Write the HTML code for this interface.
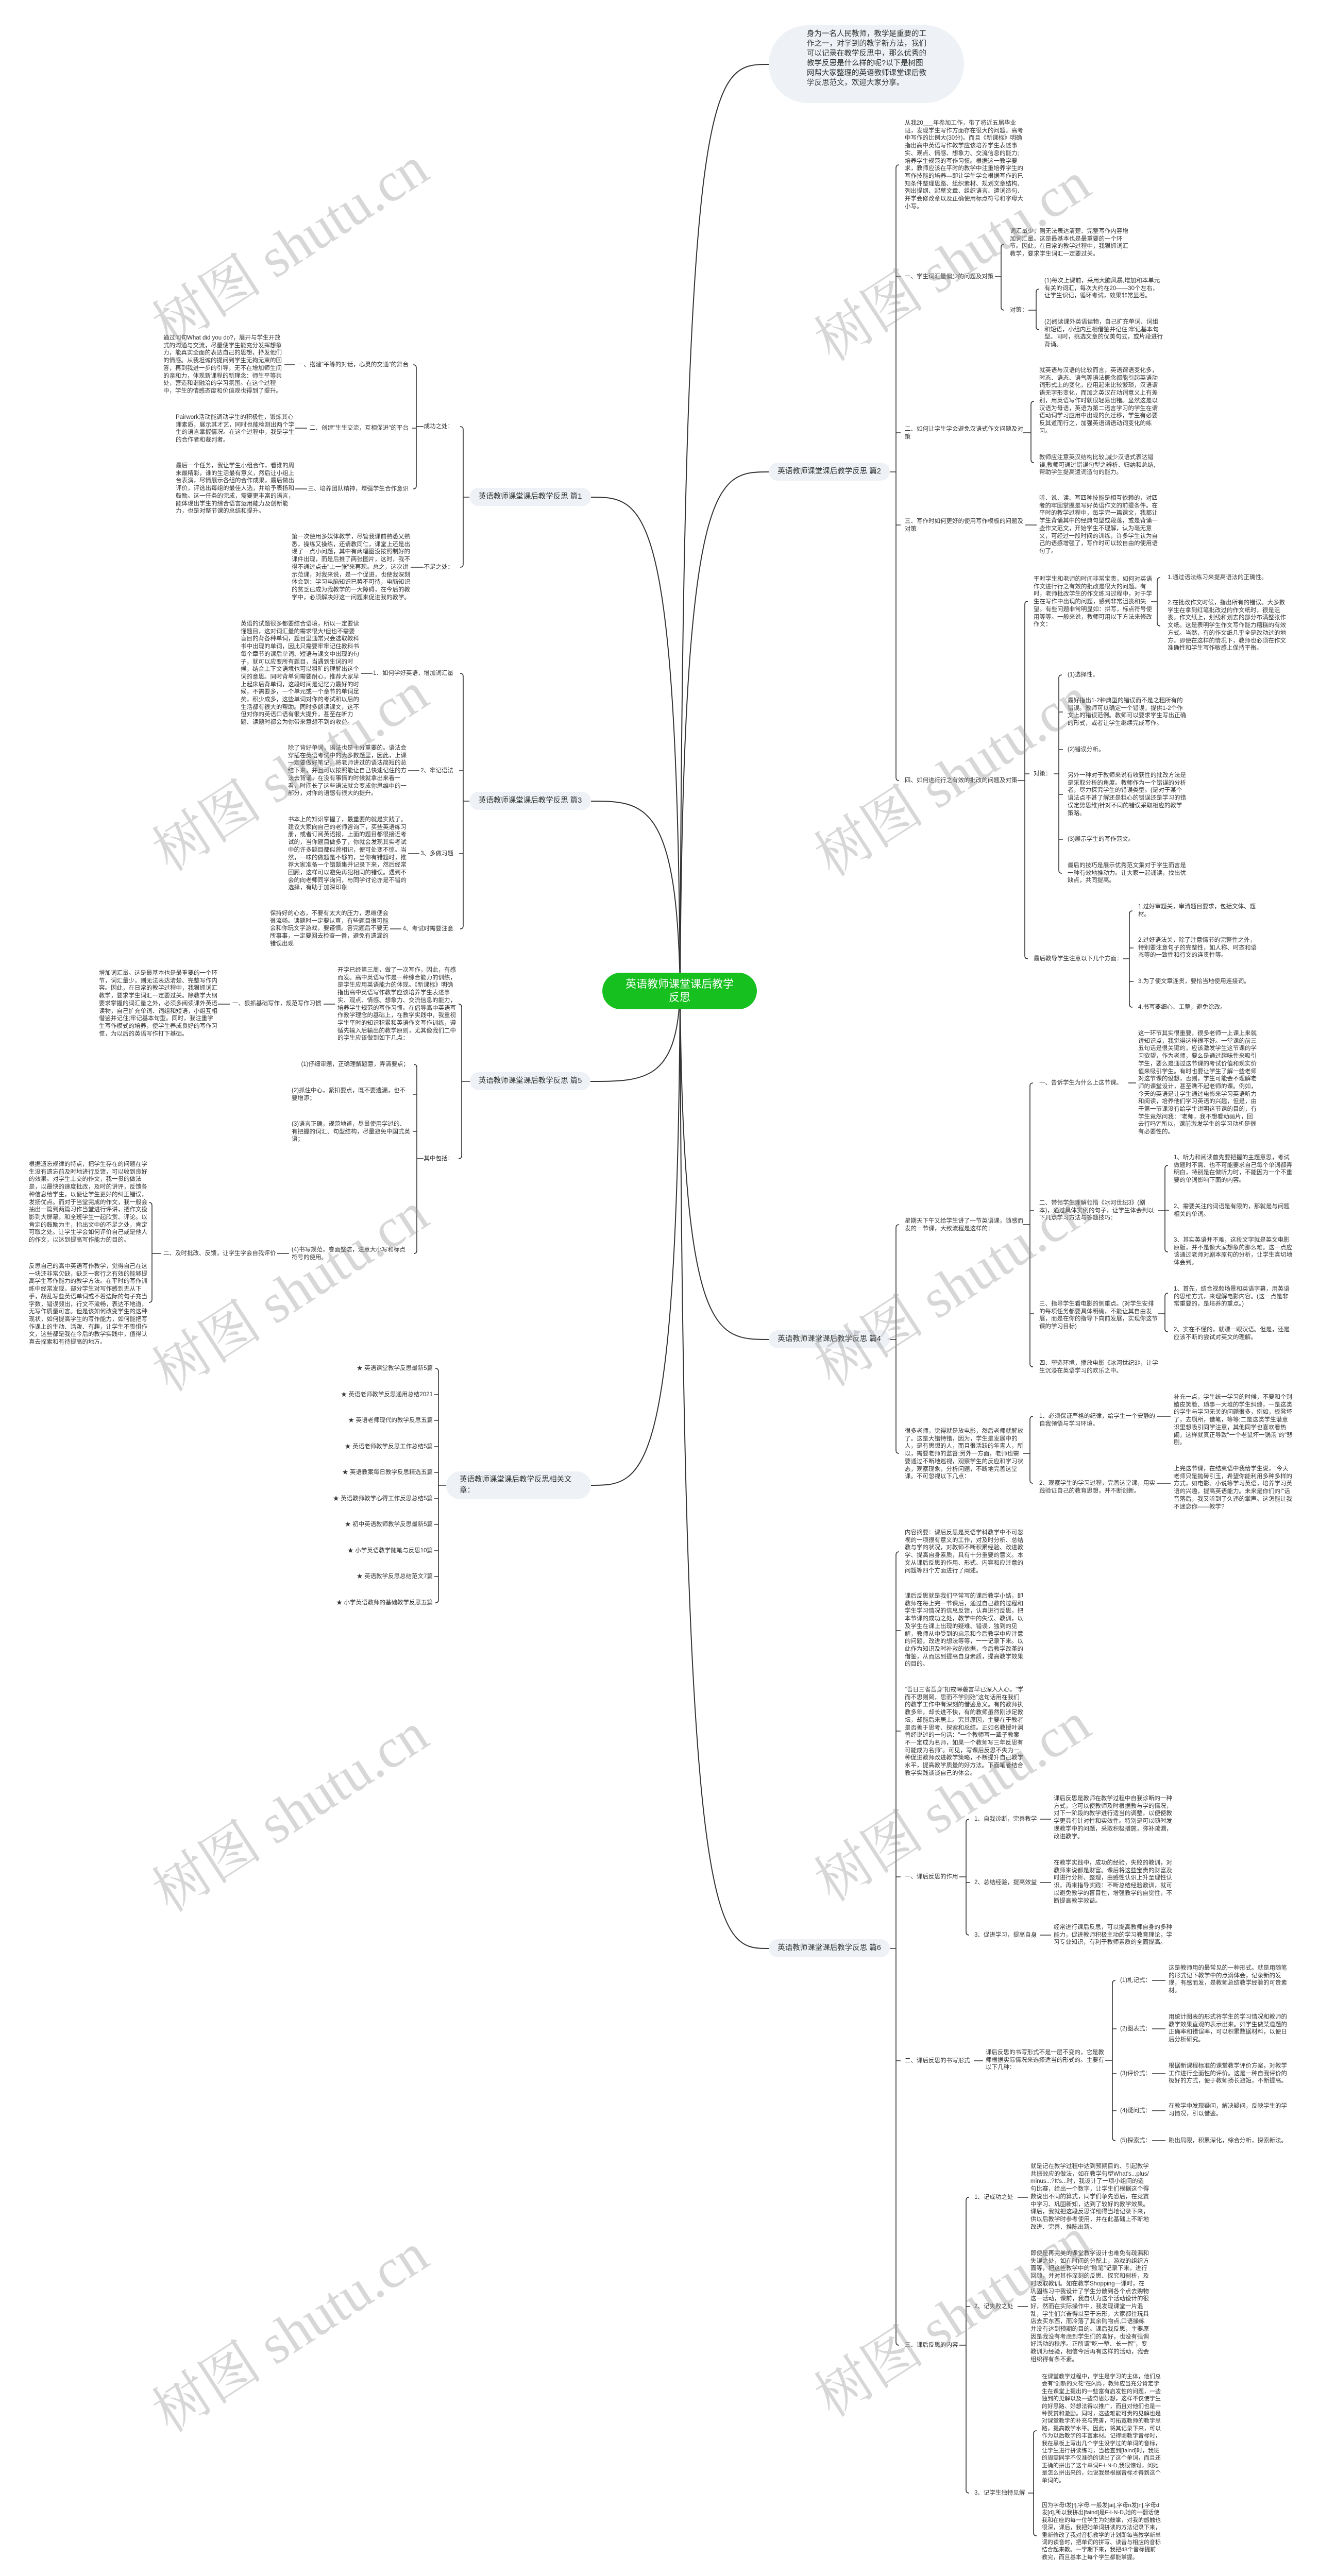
<!DOCTYPE html>
<html><head><meta charset="utf-8">
<style>
html,body{margin:0;padding:0;width:2560px;height:5065px;overflow:hidden;background:#fff;}
#wrap{position:relative;width:2560px;height:5065px;overflow:hidden;font-family:"Liberation Sans","Noto Sans CJK SC",sans-serif;color:#333;}
.t{position:absolute;font-size:11.5px;line-height:14.7px;width:231px;word-break:break-all;}
.l{position:absolute;font-size:11.5px;line-height:14.7px;white-space:nowrap;}
.r{position:absolute;font-size:11.5px;line-height:14.7px;white-space:nowrap;text-align:right;}
.n{position:absolute;background:#eef1f5;border-radius:18px;height:35px;line-height:35px;font-size:14.5px;text-align:center;color:#333;white-space:nowrap;}
.wm{position:absolute;font-family:"Liberation Serif","Noto Serif CJK SC",serif;font-size:108px;line-height:108px;height:108px;white-space:nowrap;color:rgba(150,150,150,0.38);transform:rotate(-33deg);transform-origin:0 100%;}
svg{position:absolute;left:0;top:0;}
</style></head><body><div id="wrap">
<svg width="2560" height="5065" viewBox="0 0 2560 5065" fill="none" stroke="#333" stroke-width="1.6">
<g stroke-width="2">
<path d="M1320 1923 C1325 125,1380 125,1492 125"/>
<path d="M1320 1923 C1325 916,1390 916,1492 916"/>
<path d="M1320 1923 C1325 2600,1390 2600,1492 2600"/>
<path d="M1320 1923 C1325 3782,1390 3782,1492 3782"/>
<path d="M1320 1923 C1315 965,1250 965,1147 965"/>
<path d="M1320 1923 C1315 1555,1250 1555,1147 1555"/>
<path d="M1320 1923 C1315 2099,1250 2099,1146 2099"/>
<path d="M1320 1923 C1315 2883,1250 2883,1147 2883"/>
</g>
<path d="M1727 916H1739 M1745 320Q1739 320 1739 326L1739 1509Q1739 1515 1745 1515 M1739 537h9 M1739 840h9 M1739 1019h9"/>
<path d="M1931 537H1943 M1949 474Q1943 474 1943 480L1943 596Q1943 602 1949 602"/>
<path d="M1996 602H2011 M2017 561Q2011 561 2011 567L2011 634Q2011 640 2017 640"/>
<path d="M1985 840H2001 M2007 779Q2001 779 2001 785L2001 892Q2001 898 2007 898"/>
<path d="M1990 1019H2012"/>
<path d="M1975 1515H1989 M1995 1167Q1989 1167 1989 1173L1989 1855Q1989 1861 1995 1861 M1989 1502h9"/>
<path d="M2234 1168H2246 M2252 1121Q2246 1121 2246 1127L2246 1209Q2246 1215 2252 1215"/>
<path d="M2045 1502H2055 M2061 1310Q2055 1310 2055 1316L2055 1689Q2055 1695 2061 1695 M2055 1382h8 M2055 1455h8 M2055 1542h8 M2055 1629h8"/>
<path d="M2180 1861H2192 M2198 1768Q2192 1768 2192 1774L2192 1949Q2192 1955 2198 1955 M2192 1840h8 M2192 1905h8"/>
<path d="M1727 2600H1739 M1745 2377Q1739 2377 1739 2383L1739 2815Q1739 2821 1745 2821"/>
<path d="M1985 2377H1999 M2005 2102Q1999 2102 1999 2108L1999 2647Q1999 2653 2005 2653 M1999 2350h8 M1999 2550h8"/>
<path d="M2190 2102H2205"/>
<path d="M2248 2350H2261 M2267 2262Q2261 2262 2261 2268L2261 2424Q2261 2430 2267 2430 M2261 2349h8"/>
<path d="M2248 2550H2261 M2267 2510Q2261 2510 2261 2516L2261 2579Q2261 2585 2267 2585"/>
<path d="M1985 2821H1999 M2005 2749Q1999 2749 1999 2755L1999 2873Q1999 2879 2005 2879"/>
<path d="M2245 2749H2272 M2245 2879H2272"/>
<path d="M1727 3782H1739 M1745 3012Q1739 3012 1739 3018L1739 4546Q1739 4552 1745 4552 M1739 3165h9 M1739 3360h9 M1739 3643h9 M1739 4000h9"/>
<path d="M1862 3643H1875 M1881 3531Q1875 3531 1875 3537L1875 3750Q1875 3756 1881 3756 M1875 3654h8"/>
<path d="M2018 3531H2040 M2018 3654H2040 M2018 3756H2040 M1890 4000H1908"/>
<path d="M2145 3999H2159 M2165 3844Q2159 3844 2159 3850L2159 4149Q2159 4155 2165 4155 M2159 3938h8 M2159 4025h8 M2159 4097h8"/>
<path d="M2236 3844H2262 M2236 3938H2262 M2236 4025H2262 M2236 4097H2262 M2236 4155H2262"/>
<path d="M1862 4552H1875 M1881 4265Q1875 4265 1875 4271L1875 4833Q1875 4839 1881 4839 M1875 4477h8"/>
<path d="M1975 4265H1995 M1975 4477H1995"/>
<path d="M1995 4839H2006 M2012 4718Q2006 4718 2006 4724L2006 4916Q2006 4922 2012 4922"/>
<path d="M911 965H899 M893 828Q899 828 899 834L899 1095Q899 1101 893 1101"/>
<path d="M822 828H808 M802 708Q808 708 808 714L808 943Q808 949 802 949 M808 831h-8"/>
<path d="M552 708H572 M573 831H596 M573 949H596 M797 1101H822"/>
<path d="M911 1555H899 M893 1307Q899 1307 899 1313L899 1797Q899 1803 893 1803 M899 1496h-8 M899 1657h-8"/>
<path d="M701 1307H723 M792 1496H814 M792 1657H814 M757 1803H779"/>
<path d="M912 2099H896 M890 1949Q896 1949 896 1955L896 2243Q896 2249 890 2249"/>
<path d="M628 1949H650 M423 1949H446"/>
<path d="M822 2249H809 M803 2066Q809 2066 809 2072L809 2427Q809 2433 803 2433 M809 2124h-8 M809 2196h-8"/>
<path d="M538 2433H561"/>
<path d="M312 2433H295 M289 2334Q295 2334 295 2340L295 2522Q295 2528 289 2528"/>
<path d="M866 2883H851 M845 2656Q851 2656 851 2662L851 3105Q851 3111 845 3111 M851 2707h-8 M851 2757h-8 M851 2808h-8 M851 2858h-8 M851 2909h-8 M851 2959h-8 M851 3010h-8 M851 3060h-8"/>
</svg>

<div style="position:absolute;left:1169px;top:1888px;width:300px;height:71px;border-radius:36px;background:#16c01f;color:#fff;font-size:21px;line-height:26px;text-align:center;display:flex;align-items:center;justify-content:center;"><div style="width:220px;">英语教师课堂课后教学反思</div></div>

<div style="position:absolute;left:1492px;top:49px;width:379px;height:151px;border-radius:76px;background:#eef1f5;"></div>
<div style="position:absolute;left:1566px;top:57px;width:232px;font-size:14.5px;line-height:19px;">身为一名人民教师，教学是重要的工作之一，对学到的教学新方法，我们可以记录在教学反思中，那么优秀的教学反思是什么样的呢?以下是树图网帮大家整理的英语教师课堂课后教学反思范文，欢迎大家分享。</div>

<div class="n" style="left:1492px;top:898px;width:235px;">英语教师课堂课后教学反思 篇2</div>
<div class="n" style="left:1492px;top:2582px;width:235px;">英语教师课堂课后教学反思 篇4</div>
<div class="n" style="left:1492px;top:3764px;width:235px;">英语教师课堂课后教学反思 篇6</div>
<div class="n" style="left:911px;top:947px;width:236px;">英语教师课堂课后教学反思 篇1</div>
<div class="n" style="left:911px;top:1537px;width:236px;">英语教师课堂课后教学反思 篇3</div>
<div class="n" style="left:912px;top:2081px;width:234px;">英语教师课堂课后教学反思 篇5</div>
<div class="n" style="left:866px;top:2856px;width:281px;height:54px;line-height:21px;border-radius:27px;text-align:left;white-space:normal;"><div style="padding:6px 0 0 26px;width:225px;">英语教师课堂课后教学反思相关文章：</div></div>

<div class="t" style="left:1756px;top:232px;">从我20___年参加工作，带了将近五届毕业班，发现学生写作方面存在很大的问题。高考中写作的比例大(30分)。而且《新课标》明确指出高中英语写作教学应该培养学生表述事实、观点、情感、想象力、交流信息的能力;培养学生规范的写作习惯。根据这一教学要求，教师应该在平时的教学中注重培养学生的写作技能的培养—即让学生学会根据写作的已知条件整理思路、组织素材、规划文章结构、列出提纲、起草文章、组织语言、遣词造句、并学会修改章以及正确使用标点符号和字母大小写。</div>
<div class="l" style="left:1756px;top:530px;">一、学生词汇量偏少的问题及对策</div>
<div class="t" style="left:1960px;top:442px;">词汇量少，则无法表达清楚、完整写作内容增加词汇量。这是最基本也是最重要的一个环节。因此，在日常的教学过程中，我狠抓词汇教学，要求学生词汇一定要过关。</div>
<div class="l" style="left:1960px;top:595px;">对策：</div>
<div class="t" style="left:2027px;top:538px;">(1)每次上课前，采用大脑风暴,增加和本单元有关的词汇，每次大约在20——30个左右，让学生识记，循环考试，效果非常显着。</div>
<div class="t" style="left:2027px;top:618px;">(2)阅读课外英语读物，自己扩充单词、词组和短语，小组内互相借鉴并记住;牢记基本句型。同时，挑选文章的优美句式，或片段进行背诵。</div>
<div class="t" style="left:1756px;top:826px;">二、如何让学生学会避免汉语式作文问题及对策</div>
<div class="t" style="left:2017px;top:712px;">就英语与汉语的比较而言，英语谓语变化多，时态、语态、语气等语法概念都能引起英语动词形式上的变化，应用起来比较繁琐，汉语谓语无字形变化，而加之英汉在动词意义上有差别，用英语写作时就很轻易出错。显然这是以汉语为母语，英语为第二语言学习的学生在谓语动词学习应用中出现的负迁移，学生有必要反其道而行之，加强英语谓语动词变化的练习。</div>
<div class="t" style="left:2017px;top:881px;">教师应注意英汉结构比较,减少汉语式表达错误,教师可通过错误句型之辨析、归纳和总结,帮助学生提高遣词造句的能力。</div>
<div class="t" style="left:1756px;top:1005px;">三、写作时如何更好的使用写作模板的问题及对策</div>
<div class="t" style="left:2017px;top:960px;">听、说、读、写四种技能是相互依赖的，对四者的牢固掌握是写好英语作文的前提条件。在平时的教学过程中，每学完一篇课文，我都让学生背诵其中的经典句型或段落，或是背诵一些作文范文，开始学生不理解，认为毫无意义，可经过一段时间的训练，许多学生认为自己的语感增强了，写作时可以较自由的使用语句了。</div>
<div class="l" style="left:1756px;top:1508px;">四、如何进行行之有效的批改的问题及对策</div>
<div class="t" style="left:2006px;top:1117px;">平时学生和老师的时间非常宝贵，如何对英语作文进行行之有效的批改是很大的问题。有时，老师批改学生的作文练习过程中，对于学生在写作中出现的问题，感到非常沮丧和失望。有些问题非常明显如：拼写，标点符号使用等等。一般来说，教师可用以下方法来修改作文：</div>
<div class="l" style="left:2266px;top:1114px;">1.通过语法练习来提高语法的正确性。</div>
<div class="t" style="left:2266px;top:1163px;">2.在批改作文时候，指出所有的错误。大多数学生在拿到红笔批改过的作文纸时，很是沮丧。作文纸上，划线和划去的部分布满整张作文纸。这是表明学生作文写作能力糟糕的有效方式。当然，有的作文纸几乎全是改动过的地方。即使在这样的情况下，教师也必须在作文准确性和学生写作敏感上保持平衡。</div>
<div class="l" style="left:2006px;top:1495px;">对策：</div>
<div class="l" style="left:2072px;top:1303px;">(1)选择性。</div>
<div class="t" style="left:2072px;top:1353px;">最好指出1-2种典型的错误而不是之粗所有的错误。教师可以确定一个错误，提供1-2个作文上的错误范例。教师可以要求学生写出正确的形式，或者让学生继续完成写作。</div>
<div class="l" style="left:2072px;top:1448px;">(2)错误分析。</div>
<div class="t" style="left:2072px;top:1498px;">另外一种对于教师来说有收获性的批改方法是是采取分析的角度。教师作为一个错误的分析者，尽力探究学生的错误类型。(是对于某个语法点不甚了解还是粗心的错误还是学习的错误定势思维)针对不同的错误采取相应的教学策略。</div>
<div class="l" style="left:2072px;top:1622px;">(3)展示学生的写作范文。</div>
<div class="t" style="left:2072px;top:1673px;">最后的技巧是展示优秀范文集对于学生而言是一种有效地推动力。让大家一起诵读，找出优缺点，共同提高。</div>
<div class="l" style="left:2006px;top:1854px;">最后教导学生注意以下几个方面：</div>
<div class="t" style="left:2209px;top:1753px;">1.过好审题关，审清题目要求，包括文体、题材。</div>
<div class="t" style="left:2209px;top:1818px;">2.过好语法关，除了注意情节的完整性之外，特别要注意句子的完整性，如人称、时态和语态等的一致性和行文的连贯性等。</div>
<div class="l" style="left:2209px;top:1898px;">3.为了使文章连贯，要恰当地使用连接词。</div>
<div class="l" style="left:2209px;top:1948px;">4.书写要细心、工整，避免涂改。</div>

<div class="t" style="left:1756px;top:2363px;">星期天下午又给学生讲了一节英语课，随感而发的一节课，大致流程是这样的：</div>
<div class="l" style="left:2017px;top:2095px;">一、告诉学生为什么上这节课。</div>
<div class="t" style="left:2209px;top:1999px;">这一环节其实很重要，很多老师一上课上来就讲知识点，我觉得这样很不好。一堂课的前三五句话是很关键的，应该激发学生这节课的学习欲望，作为老师，要么是通过趣味性来吸引学生，要么是通过这节课的考试价值和现实价值来吸引学生。有时也要让学生了解一些老师对这节课的设想，否则，学生可能会不理解老师的课堂设计，甚至瞧不起老师的课。例如，今天的英语是让学生通过电影来学习英语听力和阅读，培养他们学习英语的兴趣，但是，由于第一节课没有给学生讲明这节课的目的，有学生竟然问我："老师，我不想看动画片，回去行吗?"所以，课前激发学生的学习动机是很有必要性的。</div>
<div class="t" style="left:2017px;top:2328px;">二、带领学生理解领悟《冰河世纪3》(剧本)，通过具体实例的句子，让学生体会到以下几点学习方法与答题技巧：</div>
<div class="t" style="left:2278px;top:2240px;">1、听力和阅读首先要把握的主题意思，考试做题时不需、也不可能要求自己每个单词都弄明白，特别是在做听力时，不能因为一个不重要的单词影响下面的内容。</div>
<div class="t" style="left:2278px;top:2335px;">2、需要关注的词语是有限的，那就是与问题相关的单词。</div>
<div class="t" style="left:2278px;top:2400px;">3、其实英语并不难，这段文字就是英文电影原版，并不是像大家想象的那么难。这一点应该通过老师对剧本原句的分析，让学生真切地体会到。</div>
<div class="t" style="left:2017px;top:2524px;">三、指导学生看电影的侧重点。(对学生安排的每项任务都要具体明确，不能让其自由发展，而是在你的指导下向前发展，实现你这节课的学习目标)</div>
<div class="t" style="left:2278px;top:2495px;">1、首先，结合视频场景和英语字幕，用英语的思维方式，来理解电影内容。(这一点是非常重要的，是培养的重点。)</div>
<div class="t" style="left:2278px;top:2574px;">2、实在不懂的，就瞟一眼汉语。但是，还是应该不断的尝试对英文的理解。</div>
<div class="t" style="left:2017px;top:2639px;">四、塑造环境，播放电影《冰河世纪3》，让学生沉浸在英语学习的欢乐之中。</div>
<div class="t" style="left:1756px;top:2771px;">很多老师，觉得就是放电影，然后老师就解放了。这是大错特错，因为，学生是发展中的人，是有思想的人，而且很活跃的年青人，所以，需要老师的监督;另外一方面，老师也需要通过不断地巡视，观察学生的反应和学习状态，观察现象，分析问题，不断地完善这堂课。不可忽视以下几点：</div>
<div class="t" style="left:2017px;top:2742px;">1、必须保证严格的纪律，给学生一个安静的自我领悟与学习环境。</div>
<div class="t" style="left:2278px;top:2705px;">补充一点，学生统一学习的时候，不要和个别嬉皮笑脸、琐事一大堆的学生纠缠，一是这类的学生与学习无关的问题很多，例如，板凳坏了，去厕所，借笔，等等;二是这类学生潜意识里想吸引同学注意，其他同学也喜欢看热闹，这样就真正导致"一个老鼠坏一锅汤"的"悲剧。</div>
<div class="t" style="left:2017px;top:2872px;">2、观察学生的学习过程，完善这堂课，用实践验证自己的教育思想，并不断创新。</div>
<div class="t" style="left:2278px;top:2844px;">上完这节课，在结束语中我给学生说，"今天老师只是抛砖引玉，希望你能利用多种多样的方式，如电影、小说等学习英语，培养学习英语的兴趣，提高英语能力。未来是你们的!"话音落后，我又听到了久违的掌声。这怎能让我不迷恋你——教学?</div>

<div class="t" style="left:1756px;top:2968px;">内容摘要：课后反思是英语学科教学中不可忽视的一项很有意义的工作，对及时分析、总结教与学的状况，对教师不断积累经验、改进教学、提高自身素质，具有十分重要的意义。本文从课后反思的作用、形式、内容和应注意的问题等四个方面进行了阐述。</div>
<div class="t" style="left:1756px;top:3091px;">课后反思就是我们平常写的课后教学小结，即教师在每上完一节课后，通过自己教的过程和学生学习情况的信息反馈，认真进行反思，把本节课的成功之处，教学中的失误、教训，以及学生在课上出现的疑难、错误，独到的见解，教师从中受到的启示和今后教学中应注意的问题，改进的想法等等，一一记录下来。以此作为知识及时补救的依据，今后教学改革的借鉴，从而达到提高自身素质，提高教学效果的目的。</div>
<div class="t" style="left:1756px;top:3273px;">"吾日三省吾身"扣戒嗥砻言早已深入人心。"学而不思则罔，思而不学则殆"这句话用在我们的教学工作中有深刻的借鉴意义。有的教师执教多年，却长进不快，有的教师虽然刚涉足教坛，却能后来居上。究其原因，主要在于教者是否善于思考、探索和总结。正如名教授叶澜曾经说过的一句话："一个教师写一辈子教案不一定成为名师，如果一个教师写三年反思有可能成为名师"。可见，写课后反思不失为一种促进教师改进教学策略，不断提升自己教学水平，提高教学质量的好方法。下面笔者结合教学实践谈谈自己的体会。</div>
<div class="l" style="left:1756px;top:3636px;">一、课后反思的作用</div>
<div class="l" style="left:1891px;top:3524px;">1、自我诊断，完善教学</div>
<div class="t" style="left:2045px;top:3484px;">课后反思是教师在教学过程中自我诊断的一种方式，它可以使教师及时根据教与学的情况，对下一阶段的教学进行适当的调整，以便使教学更具有针对性和实效性。特别是可以随时发现教学中的问题，采取积极措施，弥补疏漏，改进教学。</div>
<div class="l" style="left:1891px;top:3647px;">2、总结经验，提高效益</div>
<div class="t" style="left:2045px;top:3609px;">在教学实践中，成功的经验，失败的教训，对教师来说都是财富。课后将这些宝贵的财富及时进行分析、整理，由感性认识上升至理性认识，再来指导实践：不断总结经验教训，就可以避免教学的盲目性，增强教学的自觉性，不断提高教学效益。</div>
<div class="l" style="left:1891px;top:3749px;">3、促进学习，提高自身</div>
<div class="t" style="left:2045px;top:3734px;">经常进行课后反思，可以提高教师自身的多种能力，促进教师积极主动的学习教育理论，学习专业知识，有利于教师素质的全面提高。</div>
<div class="l" style="left:1756px;top:3993px;">二、课后反思的书写形式</div>
<div class="t" style="left:1913px;top:3977px;">课后反思的书写形式不是一层不变的，它是教师根据实际情况来选择适当的形式的。主要有以下几种：</div>
<div class="l" style="left:2174px;top:3837px;">(1)札记式：</div>
<div class="l" style="left:2174px;top:3931px;">(2)图表式：</div>
<div class="l" style="left:2174px;top:4018px;">(3)评价式：</div>
<div class="l" style="left:2174px;top:4090px;">(4)疑问式：</div>
<div class="l" style="left:2174px;top:4148px;">(5)探索式：</div>
<div class="t" style="left:2268px;top:3813px;">这是教师用的最常见的一种形式。就是用随笔的形式记下教学中的点滴体会，记录新的发现，有感而发，是教师总结教学经验的可贵素材。</div>
<div class="t" style="left:2268px;top:3908px;">用统计图表的形式将学生的学习情况和教师的教学效果直观的表示出来。如学生做某道题的正确率和错误率，可以积累数据材料，以便日后分析研究。</div>
<div class="t" style="left:2268px;top:4003px;">根据新课程标准的课堂教学评价方案，对教学工作进行全面性的评价。这是一种自我评价的极好的方式，便于教师扬长避短，不断提高。</div>
<div class="t" style="left:2268px;top:4081px;">在教学中发现疑问，解决疑问，反映学生的学习情况，引以借鉴。</div>
<div class="l" style="left:2268px;top:4148px;">跳出局限，积累深化，综合分析，探索新法。</div>
<div class="l" style="left:1756px;top:4545px;">三、课后反思的内容</div>
<div class="l" style="left:1891px;top:4258px;">1、记成功之处</div>
<div class="t" style="left:2000px;top:4198px;">就是记在教学过程中达到预期目的、引起教学共振效应的做法，如在教学句型What's...plus/minus...?It's...时，我设计了一项小组间的造句比赛，给出一个数字，让学生们根据这个得数说出不同的算式，同学们争先恐后，在竞赛中学习、巩固新知，达到了较好的教学效果。课后，我就把这段反思详细得当地记录下来，供以后教学时参考使用，并在此基础上不断地改进、完善、推陈出新。</div>
<div class="l" style="left:1891px;top:4470px;">2、记失败之处</div>
<div class="t" style="left:2000px;top:4367px;">即使是再完美的课堂教学设计也难免有疏漏和失误之处，如在时间的分配上，游戏的组织方面等，把这些教学中的"败笔"记录下来，进行回顾，并对其作深刻的反思、探究和剖析，及时吸取教训。如在教学Shopping一课时，在巩固练习中我设计了学生分散到各个点去购物这一活动，课前，我自认为这个活动设计的很好，然而在实际操作中，我发现课堂一片混乱，学生们兴奋得以至于忘形，大家都往玩具店去买东西，而冷落了其余购物点,口语操练并没有达到预期的目的。课后我反思，主要原因是我没有考虑到学生们的喜好，也没有强调好活动的秩序。正所谓"吃一堑、长一智"，变教训为经验，相信今后再有这样的活动，我会组织得有条不紊。</div>
<div class="l" style="left:1891px;top:4832px;">3、记学生独特见解</div>
<div class="t" style="left:2022px;top:4606px;font-size:11px;line-height:14.4px;">在课堂教学过程中，学生是学习的主体，他们总会有"创新的火花"在闪烁，教师应当充分肯定学生在课堂上提出的一些富有启发性的问题，一些独到的见解以及一些奇思妙想，这样不仅使学生的好思路、好想法得以推广，而且对他们也是一种赞赏和激励。同时，这些难能可贵的见解也是对课堂教学的补充与完善，可拓宽教师的教学思路，提高教学水平。因此，将其记录下来，可以作为以后教学的丰富素材。记得刚教学音标时，我在黑板上写出几个学生没学过的单词的音标，让学生进行拼读练习，当检查到[faind]时，我班的周雯同学不仅准确的读出了这个单词，而且还正确的拼出了这个单词F-I-N-D,我很惊讶，问她是怎么拼出来的，她说我是根据音标才得到这个单词的。</div>
<div class="t" style="left:2022px;top:4856px;font-size:11px;line-height:14.4px;">因为字母f发[f],字母i一般发[ai],字母n发[n],字母d发[d],所以我拼出[faind]是F-I-N-D,她的一翻话使我和在座的每一位学生为她鼓掌，对我的感触也很深，课后，我把她单词拼读的方法记录下来，重新修改了我对音标教学的计划即每当教学新单词的读音时，把单词的拼写、读音与相应的音标结合起来教。一学期下来，我把48个音标提前教完，而且基本上每个学生都能掌握。</div>

<div class="r" style="right:1680px;top:821px;">成功之处：</div>
<div class="r" style="right:1767px;top:701px;">一、搭建"平等的对话，心灵的交通"的舞台</div>
<div class="t" style="left:317px;top:649px;">通过问句What did you do?，展开与学生开放式的沟通与交流，尽量使学生能充分发挥想象力，能真实全面的表达自己的思想，抒发他们的情感。从我坦诚的提问到学生无拘无束的回答，再到我进一步的引导，无不在增加师生间的亲和力，体现新课程的新理念：师生平等共处，营造和谐融洽的学习氛围。在这个过程中，学生的情感态度和价值观也得到了提升。</div>
<div class="r" style="right:1767px;top:824px;">二、创建"生生交流，互相促进"的平台</div>
<div class="t" style="left:341px;top:803px;">Pairwork活动能调动学生的积极性，锻炼其心理素质，展示其才艺，同时也能检测出两个学生的语言掌握情况。在这个过程中，我是学生的合作者和裁判者。</div>
<div class="r" style="right:1767px;top:942px;">三、培养团队精神，增强学生合作意识</div>
<div class="t" style="left:341px;top:897px;">最后一个任务，我让学生小组合作，看谁的周末最精彩，谁的生活最有意义，然后让小组上台表演，尽情展示各组的合作成果，最后做出评价，评选出每组的最佳人选，并给予表扬和鼓励。这一任务的完成，需要更丰富的语言，能体现出学生的综合语言运用能力及创新能力，也是对整节课的总结和提升。</div>
<div class="r" style="right:1680px;top:1094px;">不足之处：</div>
<div class="t" style="left:566px;top:1035px;">第一次使用多媒体教学，尽管我课前熟悉又熟悉，操练又操练，还请教同仁，课堂上还是出现了一点小问题，其中有两幅图没按照制好的课件出现，而是后推了两张图片，这时，我不得不通过点击"上一张"来再现。总之，这次讲示范课，对我来说，是一个促进，也使我深刻体会到：学习电脑知识已势不可待，电脑知识的贫乏已成为我教学的一大障碍，在今后的教学中，必须解决好这一问题来促进我的教学。</div>

<div class="r" style="right:1680px;top:1300px;">1、如何学好英语，增加词汇量</div>
<div class="t" style="left:467px;top:1204px;">英语的试题很多都要结合语境，所以一定要读懂题目，这对词汇量的需求很大!但也不需要盲目的背各种单词，题目里通常只会选取教科书中出现的单词，因此只需要牢牢记住教科书每个章节的课后单词、短语与课文中出现的句子，就可以应变所有题目，当遇到生词的时候，结合上下文语境也可以粗旷的理解出这个词的意思。同时背单词需要耐心，推荐大家早上起床后背单词，这段时间是记忆力最好的时候，不需要多，一个单元或一个章节的单词足矣，积少成多，这些单词对你的考试和以后的生活都有很大的帮助。同时多朗读课文，这不但对你的英语口语有很大提升，甚至在听力题、读题时都会为你带来意想不到的收益。</div>
<div class="r" style="right:1680px;top:1489px;">2、牢记语法</div>
<div class="t" style="left:559px;top:1445px;">除了背好单词，语法也是十分重要的。语法会穿插在英语考试中的大多数题里，因此，上课一定要做好笔记，将老师讲过的语法简短的总结下来，并且可以按照能让自己快速记住的方法去背诵，在没有事情的时候就拿出来看一看，时间长了这些语法就会变成你思维中的一部分，对你的语感有很大的提升。</div>
<div class="r" style="right:1680px;top:1650px;">3、多做习题</div>
<div class="t" style="left:559px;top:1584px;">书本上的知识掌握了，最重要的就是实践了。建议大家向自己的老师咨询下，买些英语练习册，或者订阅英语报，上面的题目都很接近考试的，当你题目做多了，你就会发现其实考试中的许多题目都似曾相识，便可处变不惊。当然，一味的做题是不够的，当你有错题时，推荐大家准备一个错题集并记录下来，然后经常回顾，这样可以避免再犯相同的错误。遇到不会的向老师同学询问，与同学讨论亦是不错的选择，有助于加深印象</div>
<div class="r" style="right:1680px;top:1796px;">4、考试时需要注意</div>
<div class="t" style="left:524px;top:1766px;">保持好的心态，不要有太大的压力，思维便会很流畅。读题时一定要认真，有些题目很可能会和你玩文字游戏，要谨慎。答完题后不要无所事事，一定要回去检查一番，避免有遗漏的错误出现</div>

<div class="t" style="left:655px;top:1876px;">开学已经第三周，做了一次写作，因此，有感而发。高中英语写作是一种综合能力的训练，是学生应用英语能力的体现。《新课标》明确指出高中英语写作教学应该培养学生表述事实、观点、情感、想象力、交流信息的能力，培养学生规范的写作习惯。在倡导高中英语写作教学理念的基础上，在教学实践中，我重视学生平时的知识积累和英语作文写作训练，遵循先输入后输出的教学原则，尤其像我们二中的学生应该做到如下几点：</div>
<div class="l" style="left:451px;top:1941px;">一、狠抓基础写作，规范写作习惯</div>
<div class="t" style="left:192px;top:1882px;">增加词汇量。这是最基本也是最重要的一个环节，词汇量少，则无法表达清楚、完整写作内容。因此，在日常的教学过程中，我狠抓词汇教学，要求学生词汇一定要过关。除教学大纲要求掌握的词汇量之外，必须多阅读课外英语读物，自己扩充单词、词组和短语，小组互相借鉴并记住;牢记基本句型。同时，我注重学生写作模式的培养，使学生养成良好的写作习惯，为以后的英语写作打下基础。</div>
<div class="r" style="right:1680px;top:2242px;">其中包括：</div>
<div class="r" style="right:1766px;top:2059px;">(1)仔细审题，正确理解题意，弄清要点；</div>
<div class="t" style="left:566px;top:2110px;">(2)抓住中心，紧扣要点，既不要遗漏，也不要增添；</div>
<div class="t" style="left:566px;top:2175px;">(3)语言正确，规范地道，尽量使用学过的、有把握的词汇、句型结构，尽量避免中国式英语；</div>
<div class="t" style="left:566px;top:2419px;">(4)书写规范，卷面整洁，注意大小写和标点符号的使用。</div>
<div class="l" style="left:317px;top:2426px;">二、及时批改、反馈，让学生学会自我评价</div>
<div class="t" style="left:56px;top:2253px;">根据遗忘规律的特点，把学生存在的问题在学生没有遗忘前及时地进行反馈，可以收到良好的效果。对学生上交的作文，我一贯的做法是，以最快的速度批改，及时的讲评，反馈各种信息给学生，以便让学生更好的纠正错误，发扬优点。而对于当堂完成的作文，我一般会抽出一篇到两篇习作当堂进行评讲，把作文投影到大屏幕，和全班学生一起欣赏、评论。以肯定的鼓励为主，指出文中的不足之处，肯定可取之处。让学生学会如何评价自己或是他人的作文，以达到提高写作能力的目的。</div>
<div class="t" style="left:56px;top:2451px;">反思自己的高中英语写作教学，觉得自己在这一块还非常欠缺，缺乏一套行之有效的能够提高学生写作能力的教学方法。在平时的写作训练中经常发现，部分学生对写作感到无从下手，胡乱写些英语单词或不着边际的句子充当字数，错误频出，行文不流畅，表达不地道，无写作质量可言。但是该如何改变学生的这种现状，如何提高学生的写作能力，如何能把写作课上的生动、活泼、有趣，让学生不畏惧作文，这些都是我在今后的教学实践中，值得认真去探索和有待提高的地方。</div>

<div class="r" style="right:1720px;top:2649px;">★ 英语课堂教学反思最新5篇</div>
<div class="r" style="right:1720px;top:2700px;">★ 英语老师教学反思通用总结2021</div>
<div class="r" style="right:1720px;top:2750px;">★ 英语老师现代的教学反思五篇</div>
<div class="r" style="right:1720px;top:2801px;">★ 英语老师教学反思工作总结5篇</div>
<div class="r" style="right:1720px;top:2851px;">★ 英语教案每日教学反思精选五篇</div>
<div class="r" style="right:1720px;top:2902px;">★ 英语教师教学心得工作反思总结5篇</div>
<div class="r" style="right:1720px;top:2952px;">★ 初中英语教师教学反思最新5篇</div>
<div class="r" style="right:1720px;top:3003px;">★ 小学英语教学随笔与反思10篇</div>
<div class="r" style="right:1720px;top:3053px;">★ 英语教学反思总结范文7篇</div>
<div class="r" style="right:1720px;top:3104px;">★ 小学英语教师的基础教学反思五篇</div>

<div class="wm" style="left:1625px;top:612px;">树图 shutu.cn</div>
<div class="wm" style="left:1625px;top:1612px;">树图 shutu.cn</div>
<div class="wm" style="left:1625px;top:2602px;">树图 shutu.cn</div>
<div class="wm" style="left:1625px;top:3602px;">树图 shutu.cn</div>
<div class="wm" style="left:1625px;top:4602px;">树图 shutu.cn</div>
<div class="wm" style="left:340px;top:582px;">树图 shutu.cn</div>
<div class="wm" style="left:340px;top:1602px;">树图 shutu.cn</div>
<div class="wm" style="left:340px;top:2612px;">树图 shutu.cn</div>
<div class="wm" style="left:340px;top:3622px;">树图 shutu.cn</div>
<div class="wm" style="left:340px;top:4632px;">树图 shutu.cn</div>
</div></body></html>
